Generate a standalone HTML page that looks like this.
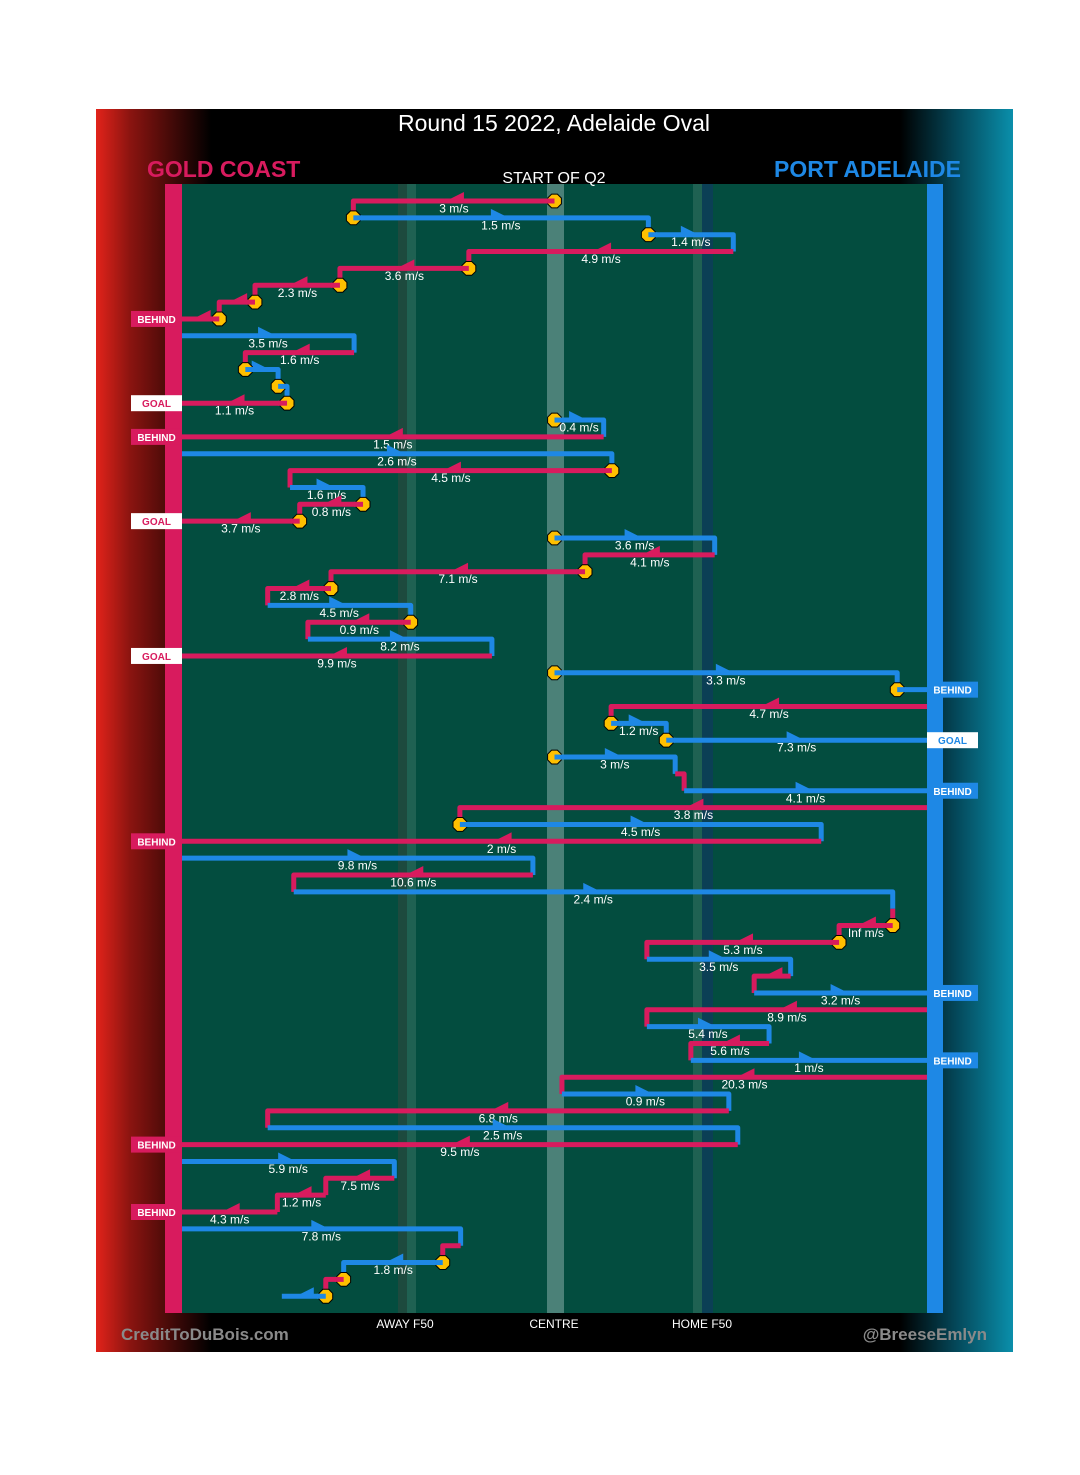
<!DOCTYPE html>
<html><head><meta charset="utf-8"><style>
html,body{margin:0;padding:0;background:#fff}
svg{display:block;font-family:"Liberation Sans",sans-serif}
</style></head><body>
<svg id="chart" width="1080" height="1475" viewBox="0 0 1080 1475">
<defs>
<linearGradient id="lg" x1="0" x2="1" y1="0" y2="0">
<stop offset="0" stop-color="#e2231a"/><stop offset="0.3" stop-color="#8a1410"/><stop offset="1" stop-color="#000"/></linearGradient>
<linearGradient id="rg" x1="0" x2="1" y1="0" y2="0">
<stop offset="0" stop-color="#000"/><stop offset="0.5" stop-color="#04485a"/><stop offset="1" stop-color="#0a8fab"/></linearGradient>
</defs>
<rect x="96" y="109" width="917" height="1243" fill="#000"/>
<rect x="96" y="109" width="115" height="1243" fill="url(#lg)"/>
<rect x="900" y="109" width="113" height="1243" fill="url(#rg)"/>
<rect x="182" y="184" width="745" height="1129" fill="#034d3f"/>
<rect x="398" y="184" width="9" height="1129" fill="#1d4a3e"/>
<rect x="407" y="184" width="9" height="1129" fill="#1f6152"/>
<rect x="547" y="184" width="17" height="1129" fill="#4b8178"/>
<rect x="693" y="184" width="9" height="1129" fill="#1f6152"/>
<rect x="702" y="184" width="11" height="1129" fill="#0b3f55"/>
<rect x="165" y="184" width="17" height="1129" fill="#d81b5e"/>
<rect x="927" y="184" width="16" height="1129" fill="#1e88e5"/>
<text x="554" y="131" fill="#fff" font-size="23" text-anchor="middle">Round 15 2022, Adelaide Oval</text>
<text x="147" y="177" fill="#d81b5e" font-size="23" font-weight="bold">GOLD COAST</text>
<text x="961" y="177" fill="#1e88e5" font-size="23" font-weight="bold" text-anchor="end">PORT ADELAIDE</text>
<text x="554" y="183" fill="#fff" font-size="16" text-anchor="middle">START OF Q2</text>
<text x="405" y="1328" fill="#fff" font-size="12" text-anchor="middle">AWAY F50</text>
<text x="554" y="1328" fill="#fff" font-size="12" text-anchor="middle">CENTRE</text>
<text x="702" y="1328" fill="#fff" font-size="12" text-anchor="middle">HOME F50</text>
<text x="121" y="1340" fill="#8a8a8a" font-size="17" font-weight="bold">CreditToDuBois.com</text>
<text x="987" y="1340" fill="#8a8a8a" font-size="17" font-weight="bold" text-anchor="end">@BreeseEmlyn</text>
<g id="marks"></g>
</svg>
<script>
// field position 0 = Gold Coast goal, 100 = Port Adelaide goal
const teams = ["G","P","P","G","G","G","G","G","P","G","P","P","G","P","G","P","G","P","G","G","P","G","G","G","P","G","P","G","P","P","G","P","P","P","G","P","G","P","G","P","G","P","G","G","G","P","G","P","G","P","G","P","G","P","G","P","G","P","G","G","G","P","G","P","G","P"];
const fromPos = [50,23,62.6,74,38.5,21.2,9.8,5,0,23.1,8.5,12.9,14.1,50,56.6,0,57.7,14.5,24.3,15.8,50,71.5,54.1,20,11.5,30.7,16.9,41.6,50,96,100,57.6,65,50,66.2,67.4,100,37.3,85.8,0,47.1,15,95.4,95.4,88.2,62.4,81.7,76.8,100,62.4,78.8,68.3,100,51,73.4,11.5,74.6,0,28.5,19.3,12.8,0,37.4,35,21.7,19.3];
const toPos = [23,62.6,74,38.5,21.2,9.8,5,0,23.1,8.5,12.9,14.1,0,56.6,0,57.7,14.5,24.3,15.8,0,71.5,54.1,20,11.5,30.7,16.9,41.6,0,96,100,57.6,65,100,66.2,67.4,100,37.3,85.8,0,47.1,15,95.4,95.4,88.2,62.4,81.7,76.8,100,62.4,78.8,68.3,100,51,73.4,11.5,74.6,0,28.5,19.3,12.8,0,37.4,35,21.7,19.3,13.4];
const speeds = ["3","1.5","1.4","4.9","3.6","2.3","","","3.5","1.6","","","1.1","0.4","1.5","2.6","4.5","1.6","0.8","3.7","3.6","4.1","7.1","2.8","4.5","0.9","8.2","9.9","3.3","","4.7","1.2","7.3","3","","4.1","3.8","4.5","2","9.8","10.6","2.4","","Inf","5.3","3.5","","3.2","8.9","5.4","5.6","1","20.3","0.9","6.8","2.5","9.5","5.9","7.5","1.2","4.3","7.8","","1.8","",""];
const markerRows = [0,1,2,4,5,6,7,10,11,12,13,16,18,19,20,22,23,25,28,29,31,32,33,37,43,44,63,64,65];
const outcomes = ["","","","","","","","B","","","","","G","","B","","","","","G","","","","","","","","G","","B","","","G","","","B","","","B","","","","","","","","","B","","","","B","","","","","B","","","","B","","","","",""];

const xS = v => 182 + v * 7.45;
const yS = i => 201 + i * 16.85;
const col = t => t === "G" ? "#d81b5e" : "#1e88e5";
const NS = "http://www.w3.org/2000/svg";
const g = document.getElementById("marks");
function mk(tag, attrs){const e=document.createElementNS(NS,tag);for(const k in attrs)e.setAttribute(k,attrs[k]);g.appendChild(e);return e;}

for (let i = 0; i < teams.length; i++) {
  const y = yS(i), x1 = xS(fromPos[i]), x2 = xS(toPos[i]);
  let d = "M" + x1 + "," + y + " H" + x2;
  if (i + 1 < teams.length && !outcomes[i] && Math.abs(fromPos[i+1] - toPos[i]) < 0.01) d += " V" + yS(i+1);
  const p = mk("path", {d: d, fill: "none", stroke: col(teams[i]), "stroke-width": 5, "stroke-linejoin": "round"});
  
  
  const mid = (x1 + x2) / 2, dir = x2 >= x1 ? 1 : -1;
  if (Math.abs(x2 - x1) > 30) {
    const a = mk("polygon", {points: (mid + 10*dir) + "," + (y+1) + " " + (mid - 10*dir) + "," + (y-9) + " " + (mid - 10*dir) + "," + (y+1), fill: col(teams[i])});
    
    
  }
  if (speeds[i]) {
    const t = mk("text", {x: mid, y: y + 11.5, fill: "#fff", "font-size": 12, "text-anchor": "middle"});
    t.textContent = speeds[i] + " m/s";
    
    
  }
  if (outcomes[i]) {
    const left = toPos[i] < 50;
    const isGoal = outcomes[i] === "G";
    const bx = left ? 131 : 927;
    const c = left ? "#d81b5e" : "#1e88e5";
    const r = mk("rect", {x: bx, y: y - 8, width: 51, height: 16, fill: isGoal ? "#fff" : c});
    
    
    const t = mk("text", {x: bx + 25.5, y: y + 4, fill: isGoal ? c : "#fff", "font-size": 10, "font-weight": "bold", "text-anchor": "middle"});
    t.textContent = isGoal ? "GOAL" : "BEHIND";
    
    
  }
}
for (const i of markerRows) {
  const cx = xS(fromPos[i]), cy = yS(i), r = 7.5;
  let pts = [];
  for (let k = 0; k < 8; k++) { const a = Math.PI/8 + k*Math.PI/4; pts.push((cx + r*Math.cos(a)).toFixed(1) + "," + (cy + r*Math.sin(a)).toFixed(1)); }
  const m = mk("polygon", {points: pts.join(" "), fill: "#ffc000", stroke: "#000", "stroke-width": 1});
  
  
  const dir = toPos[i] >= fromPos[i] ? 1 : -1;
  const s = mk("path", {d: "M" + cx + "," + cy + " h" + (9*dir), stroke: col(teams[i]), "stroke-width": 5});
  
  
}
</script>
</body></html>
